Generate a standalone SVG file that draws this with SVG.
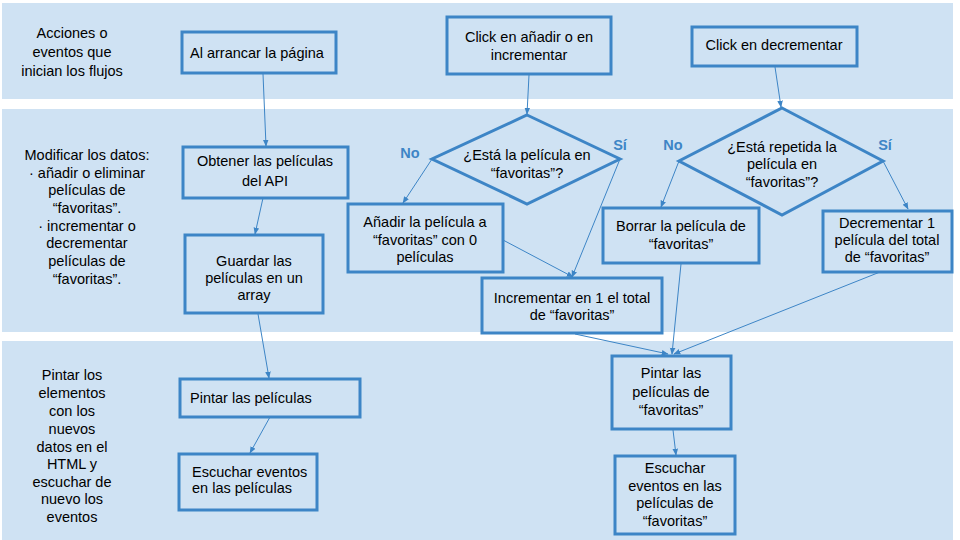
<svg xmlns="http://www.w3.org/2000/svg" width="960" height="540" viewBox="0 0 960 540">
<style>
.band{fill:#cfe2f3}
.box{fill:#cfe2f3;stroke:#3d85c6;stroke-width:3}
.t{font-family:"Liberation Sans",Arial,sans-serif;font-size:14.5px;fill:#000}
.c{text-anchor:middle}
.lbl{font-family:"Liberation Sans",Arial,sans-serif;font-size:14.5px;font-weight:bold;fill:#3d85c6;text-anchor:middle}
.edge{fill:none;stroke:#3d85c6;stroke-width:1;marker-end:url(#ah)}
</style>
<defs>
<marker id="ah" viewBox="0 0 10 10" refX="9" refY="5" markerWidth="7" markerHeight="7" orient="auto" markerUnits="userSpaceOnUse">
<path d="M0,1 L10,5 L0,9 z" fill="#3d85c6"/>
</marker>
</defs>
<rect width="960" height="540" fill="#fff"/>
<g id="bands">
<rect class="band" x="2" y="3" width="951" height="96"/>
<rect class="band" x="2" y="109" width="951" height="223"/>
<rect class="band" x="2" y="341" width="951" height="199"/>
</g>
<g id="lane-labels">
<text class="t c"><tspan x="72" y="38">Acciones o</tspan><tspan x="72" y="57">eventos que</tspan><tspan x="72" y="76">inician los flujos</tspan></text>
<text class="t c"><tspan x="87" y="160">Modificar los datos:</tspan><tspan x="87" y="178">· añadir o eliminar</tspan><tspan x="87" y="195">películas de</tspan><tspan x="87" y="213">“favoritas”.</tspan><tspan x="87" y="231">· incrementar o</tspan><tspan x="87" y="248">decrementar</tspan><tspan x="87" y="266">películas de</tspan><tspan x="87" y="284">“favoritas”.</tspan></text>
<text class="t c"><tspan x="72" y="380">Pintar los</tspan><tspan x="72" y="398">elementos</tspan><tspan x="72" y="416">con los</tspan><tspan x="72" y="434">nuevos</tspan><tspan x="72" y="452">datos en el</tspan><tspan x="72" y="469">HTML y</tspan><tspan x="72" y="487">escuchar de</tspan><tspan x="72" y="504">nuevo los</tspan><tspan x="72" y="522">eventos</tspan></text>
</g>
<g id="connectors">
<path class="edge" d="M263,74 L266,146"/>
<path class="edge" d="M263,198 L255,234"/>
<path class="edge" d="M258,314 L269,378"/>
<path class="edge" d="M270,417 L250,453"/>
<path class="edge" d="M529,75 L527,114"/>
<path class="edge" d="M432,159 L403,203"/>
<path class="edge" d="M503,240 L573,277"/>
<path class="edge" d="M620,159 L572,277"/>
<path class="edge" d="M775,67 L781,107"/>
<path class="edge" d="M679,161 L661,207"/>
<path class="edge" d="M883,161 L908,209"/>
<path class="edge" d="M681,264 L672,354"/>
<path class="edge" d="M880,272 L674,354"/>
<path class="edge" d="M575,334 L668,354"/>
<path class="edge" d="M673,430 L676,455"/>
</g>
<g id="n-arrancar"><rect class="box" x="182" y="32" width="154" height="41"/><text class="t" x="190" y="58">Al arrancar la página</text></g>
<g id="n-click-anadir"><rect class="box" x="447" y="17" width="164" height="57"/><text class="t c"><tspan x="529" y="42">Click en añadir o en</tspan><tspan x="529" y="60">incrementar</tspan></text></g>
<g id="n-click-decrementar"><rect class="box" x="692" y="27" width="165" height="39"/><text class="t c" x="774" y="50">Click en decrementar</text></g>
<g id="n-obtener"><rect class="box" x="183" y="147" width="165" height="51"/><text class="t c"><tspan x="265" y="166">Obtener las películas</tspan><tspan x="265" y="186">del API</tspan></text></g>
<g id="n-guardar"><rect class="box" x="185" y="235" width="138" height="78"/><text class="t c"><tspan x="254" y="266">Guardar las</tspan><tspan x="254" y="283">películas en un</tspan><tspan x="254" y="300">array</tspan></text></g>
<g id="n-pintar"><rect class="box" x="180" y="379" width="180" height="38"/><text class="t" x="190" y="403">Pintar las películas</text></g>
<g id="n-escuchar"><rect class="box" x="179" y="454" width="138" height="56"/><text class="t"><tspan x="192" y="477">Escuchar eventos</tspan><tspan x="192" y="493">en las películas</tspan></text></g>
<g id="n-diamond1"><polygon class="box" points="527,115 620,159 527,204 432,159"/><text class="t c"><tspan x="527" y="160">¿Está la película en</tspan><tspan x="527" y="178">“favoritas”?</tspan></text></g>
<g id="n-no1"><text class="lbl" x="410" y="158">No</text></g>
<g id="n-si1"><text class="lbl" x="620" y="150">Sí</text></g>
<g id="n-anadir"><rect class="box" x="348" y="204" width="155" height="68"/><text class="t c"><tspan x="425" y="227">Añadir la película a</tspan><tspan x="425" y="245">“favoritas” con 0</tspan><tspan x="425" y="262">películas</tspan></text></g>
<g id="n-incrementar"><rect class="box" x="482" y="278" width="180" height="55"/><text class="t c"><tspan x="572" y="303">Incrementar en 1 el total</tspan><tspan x="572" y="320">de “favoritas”</tspan></text></g>
<g id="n-diamond2"><polygon class="box" points="782,108 883,161 782,215 679,161"/><text class="t c"><tspan x="782" y="152">¿Está repetida la</tspan><tspan x="782" y="169">película en</tspan><tspan x="782" y="187">“favoritas”?</tspan></text></g>
<g id="n-no2"><text class="lbl" x="673" y="150">No</text></g>
<g id="n-si2"><text class="lbl" x="885" y="150">Sí</text></g>
<g id="n-borrar"><rect class="box" x="603" y="208" width="156" height="55"/><text class="t c"><tspan x="681" y="231">Borrar la película de</tspan><tspan x="681" y="249">“favoritas”</tspan></text></g>
<g id="n-decrementar"><rect class="box" x="823" y="211" width="129" height="61"/><text class="t c"><tspan x="887" y="228">Decrementar 1</tspan><tspan x="887" y="245">película del total</tspan><tspan x="887" y="262">de “favoritas”</tspan></text></g>
<g id="n-pintar-fav"><rect class="box" x="612" y="356" width="119" height="73"/><text class="t c"><tspan x="671" y="378">Pintar las</tspan><tspan x="671" y="397">películas de</tspan><tspan x="671" y="415">“favoritas”</tspan></text></g>
<g id="n-escuchar-fav"><rect class="box" x="615" y="456" width="120" height="78"/><text class="t c"><tspan x="675" y="473">Escuchar</tspan><tspan x="675" y="491">eventos en las</tspan><tspan x="675" y="508">películas de</tspan><tspan x="675" y="526">“favoritas”</tspan></text></g>
</svg>
